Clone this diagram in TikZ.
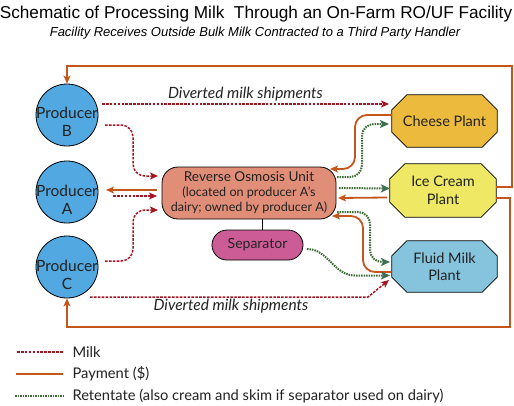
\documentclass[tikz,border=0pt]{standalone}
\usepackage{fontspec}
\setmainfont{Lato}
\newfontfamily\titlefont{Liberation Sans}
\usetikzlibrary{arrows.meta,calc}
\definecolor{milkc}{HTML}{A31621}
\definecolor{payc}{HTML}{C4561C}
\definecolor{retc}{HTML}{3C6B33}
\definecolor{rettip}{HTML}{3F6E52}
\definecolor{prodc}{HTML}{52A8E0}
\definecolor{roc}{HTML}{E08E78}
\definecolor{sepc}{HTML}{CC5C96}
\definecolor{cheesec}{HTML}{ECBA3C}
\definecolor{icec}{HTML}{EEE864}
\definecolor{fluidc}{HTML}{86C4DE}
\definecolor{txtc}{HTML}{222222}
\pgfdeclarelayer{bgzero}
\pgfdeclarelayer{bgone}
\pgfsetlayers{bgzero,bgone,main}
\newcommand\octofill[2]{%
  \draw[line width=0.8pt, fill=#2] ($(#1.north west)+(15,0)$) -- ($(#1.north east)+(-15,0)$) -- ($(#1.north east)+(0,15)$) -- ($(#1.south east)+(0,-15)$) -- ($(#1.south east)+(-15,0)$) -- ($(#1.south west)+(15,0)$) -- ($(#1.south west)+(0,-15)$) -- ($(#1.north west)+(0,15)$) -- cycle;}
\tikzset{
  prod/.style={circle, draw=black, line width=0.8pt, fill=prodc, minimum size=62pt, inner sep=0pt},
  prodtxt/.style={align=center, inner sep=0pt, text=txtc, font=\fontsize{15.5}{18}\selectfont},
  plant/.style={rectangle, minimum width=105pt, minimum height=52pt, inner sep=0pt, align=center, text=txtc, font=\fontsize{14.5}{17.5}\selectfont},
  milk/.style={draw=milkc, line width=1.5pt, dash pattern=on 2.6pt off 1.3pt, -{Stealth[length=8pt,width=7pt,inset=2pt,fill=milkc]}},
  milkline/.style={draw=milkc, line width=1.5pt, dash pattern=on 2.6pt off 1.3pt},
  pay/.style={draw=payc, line width=1.8pt, -{Stealth[length=8pt,width=7pt,inset=2pt,fill=payc]}},
  payline/.style={draw=payc, line width=1.8pt},
  ret/.style={draw=retc, line width=2pt, dash pattern=on 1.5pt off 1pt, -{Stealth[length=9pt,width=8pt,inset=2pt,fill=rettip,color=rettip]}},
  retline/.style={draw=retc, line width=2pt, dash pattern=on 1.5pt off 1pt},
  lbl/.style={anchor=west, text=txtc, font=\fontsize{14.7}{16}\selectfont},
  divlbl/.style={text=txtc, font=\fontsize{15.5}{17}\selectfont\itshape},
}
\begin{document}
\begin{tikzpicture}[x=1pt,y=-1pt]
\begin{pgfonlayer}{bgzero}
\fill[white] (0,0) rectangle (514,405);
\end{pgfonlayer}
\useasboundingbox (0,0) rectangle (514,405);
% titles
\node[font=\titlefont\fontsize{17.2}{19}\selectfont] (title) at (256,14) {Schematic of Processing Milk\ \ Through an On-Farm RO/UF Facility};
\node[font=\titlefont\itshape\fontsize{13}{15}\selectfont] (sub) at (255,33) {Facility Receives Outside Bulk Milk Contracted to a Third Party Handler};
% producers
\node[prod] (pB) at (67,115) {};
\node[prodtxt] (pBt) at (67,122) {Producer\\B};
\node[prod] (pA) at (67,192) {};
\node[prodtxt] (pAt) at (67,200) {Producer\\A};
\node[prod] (pC) at (67,267) {};
\node[prodtxt] (pCt) at (67,275) {Producer\\C};
% RO unit and separator
\node[draw=black, line width=0.8pt, fill=roc, rounded corners=16pt, minimum width=174pt, minimum height=52pt, inner sep=0pt, align=center, text=txtc, font=\fontsize{12.6}{15}\selectfont] (ro) at (249,193)
  {{\fontsize{13.6}{15}\selectfont Reverse Osmosis Unit}\\(located on producer A's\\dairy; owned by producer A)};
\node[draw=black, line width=0.8pt, fill=sepc, rounded corners=15pt, minimum width=91pt, minimum height=30pt, inner sep=0pt, text=txtc, font=\fontsize{14}{16}\selectfont] (sep) at (257.5,245) {Separator};
\draw[line width=0.8pt] ($(ro.south)+(13,0)$) -- ($(sep.north)+(4.5,0)$);
% plants
\node[plant] (cheese) at (444.5,121) {Cheese Plant};
\node[plant, minimum width=106pt, minimum height=53pt] (ice) at (443,190.5) {Ice Cream\\Plant};
\node[plant, minimum height=51pt] (fluid) at (444.5,266.5) {Fluid Milk\\Plant};
\begin{pgfonlayer}{bgone}
\octofill{cheese}{cheesec}
\octofill{ice}{icec}
\octofill{fluid}{fluidc}
\end{pgfonlayer}
% outer payment loops
\draw[pay] ($(ice.center)+(53,-3.5)$) -| (512,66) -| (pB.north);
\draw[pay] ($(ice.center)+(53,7.5)$) -| (510,327) -| (pC.south);
% diverted milk
\draw[milk] ($(pB.center)+(35,-11)$) -- node[divlbl, above=-1pt] (dl1) {Diverted milk shipments} ($(cheese.center)+(-55.5,-17)$);
\coordinate (dvB) at ($(fluid.center)+(-55.5,13.5)$);
\draw[milk] ($(pC.center)+(23,30)$) -- ($(dvB)+(-21,17)$) -- (dvB);
\node[divlbl] (dl2) at (231,306) {Diverted milk shipments};
% producers to RO
\coordinate (roB) at ($(ro.center)+(-91,-17)$);
\coordinate (roC) at ($(ro.center)+(-91,17)$);
\draw[milk, rounded corners=12pt] ($(pB.center)+(38,10)$) -| ($(roB)+(-25,0)$) -- (roB);
\draw[milk, rounded corners=12pt] ($(pC.center)+(38,-6)$) -| ($(roC)+(-25,0)$) -- (roC);
\draw[pay] ($(ro.center)+(-92,-3)$) -- ($(pA.center)+(39,-2)$);
\draw[milk] ($(pA.center)+(46,4)$) -- ($(ro.center)+(-92,3)$);
% cheese
\coordinate (chP) at ($(ro.center)+(81,-24)$);
\coordinate (chR) at ($(cheese.center)+(-55.5,3)$);
\draw[pay, rounded corners=12pt] ($(cheese.center)+(-52.5,-6)$) -| ($(chP)+(25,0)$) -- (chP);
\draw[ret, rounded corners=12pt] ($(ro.center)+(88,-16)$) -| ($(chR)+(-27,0)$) -- (chR);
% ice cream
\draw[ret] ($(ro.center)+(90,-5)$) -- ($(ice.center)+(-53,-2)$);
\draw[pay] ($(ice.center)+(-56,7)$) -- ($(ro.center)+(89,5)$);
% fluid
\coordinate (flP) at ($(ro.center)+(83,23)$);
\coordinate (flR) at ($(fluid.center)+(-54.5,-4.5)$);
\draw[pay, rounded corners=12pt] ($(fluid.center)+(-53.5,5.5)$) -| ($(flP)+(31,0)$) -- (flP);
\draw[ret, rounded corners=12pt] ($(ro.center)+(88,19)$) -| ($(flR)+(-20,0)$) -- (flR);
\coordinate (flS) at ($(fluid.center)+(-54.5,9)$);
\draw[ret] ($(sep.center)+(49.5,4)$) to[out=0,in=180] ($(flS)+(-35,0)$) -- (flS);
% legend
\coordinate (l1a) at (17,352); \coordinate (l1b) at (63,352);
\coordinate (l2a) at (16,374); \coordinate (l2b) at (63,374);
\coordinate (l3a) at (15,396); \coordinate (l3b) at (63,396);
\draw[milkline] (l1a) -- (l1b);
\draw[payline] (l2a) -- (l2b);
\draw[retline] (l3a) -- (l3b);
\node[lbl] (t1) at (69,352) {Milk};
\node[lbl] (t2) at (69,374) {Payment (\$)};
\node[lbl] (t3) at (69,396) {Retentate (also cream and skim if separator used on dairy)};
\end{tikzpicture}
\end{document}
